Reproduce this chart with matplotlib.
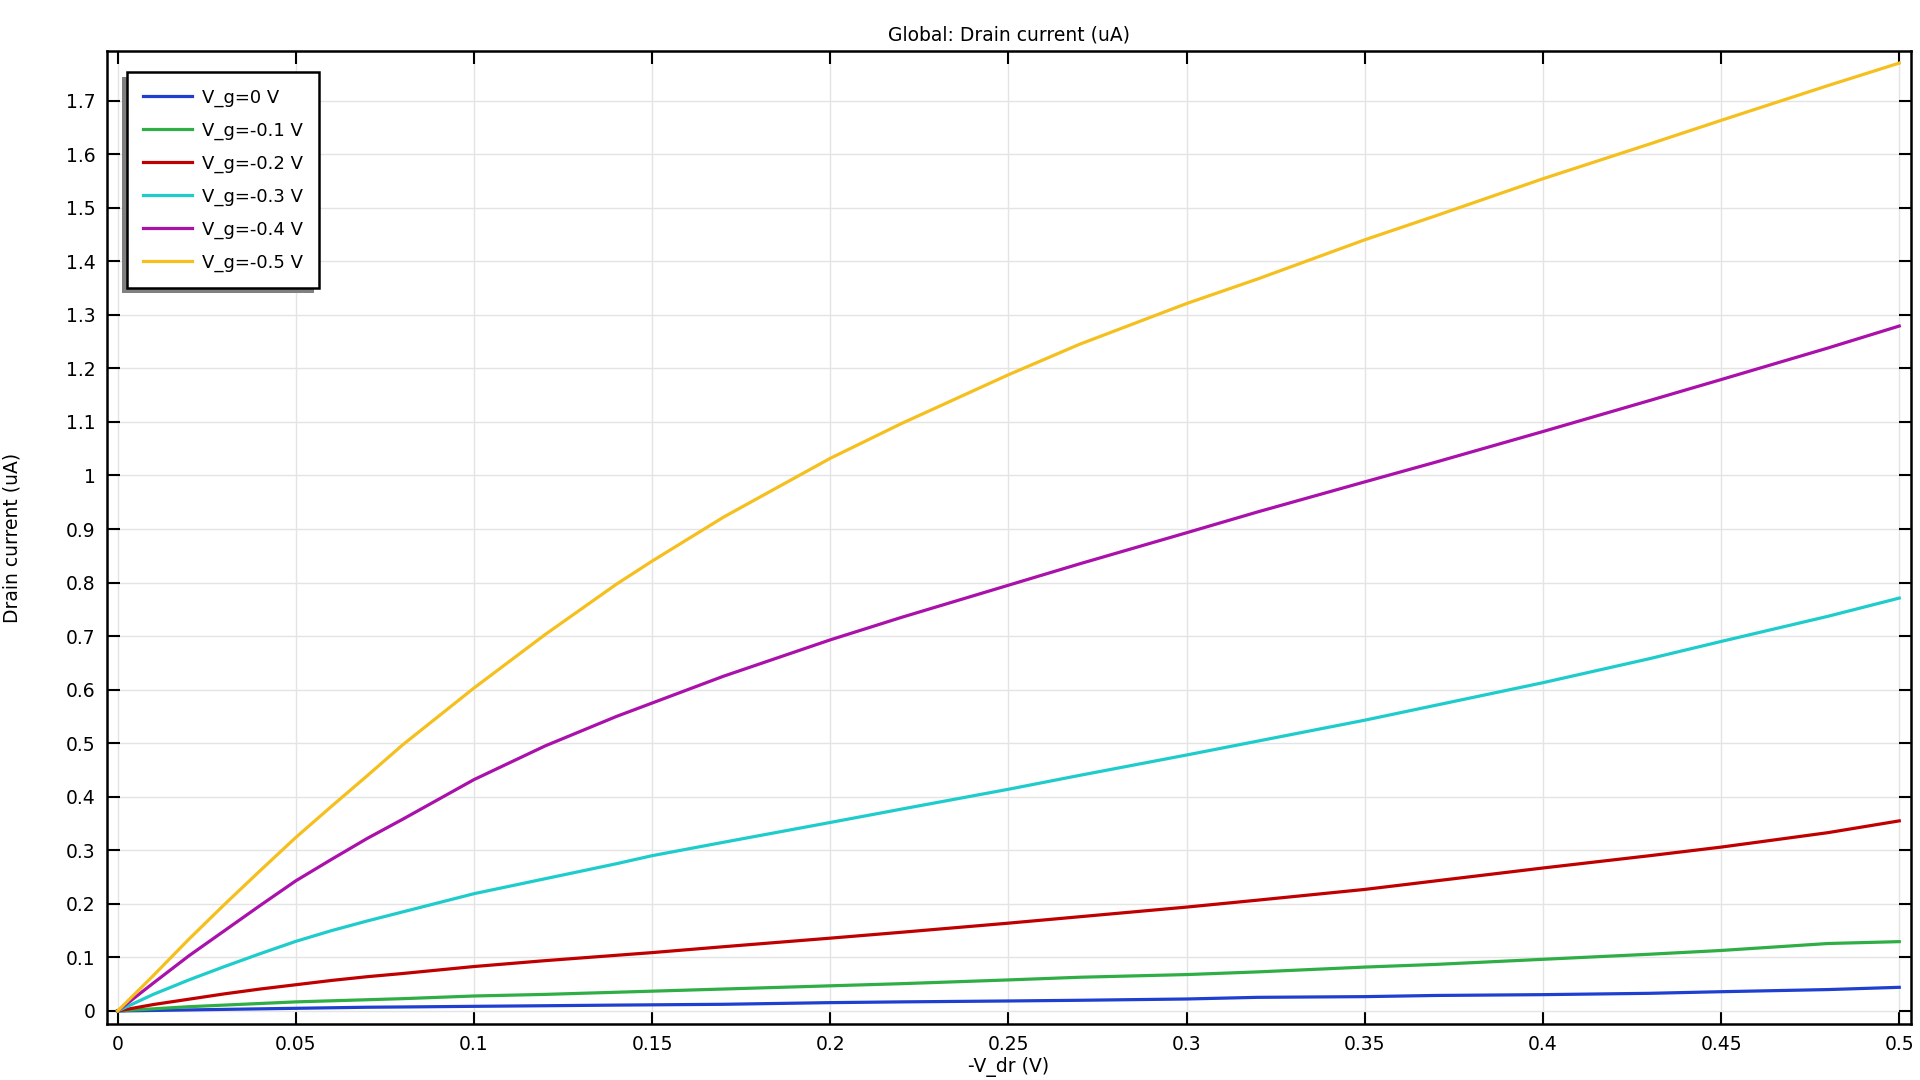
import numpy as np
import matplotlib.pyplot as plt
from matplotlib.patches import Rectangle
from matplotlib.transforms import IdentityTransform

# drain voltage samples (-V_dr, V)
v_dr = [0, 0.01, 0.02, 0.03, 0.04, 0.05, 0.06, 0.07, 0.08, 0.1, 0.12, 0.14, 0.15,
        0.17, 0.2, 0.22, 0.25, 0.27, 0.3, 0.32, 0.35, 0.37, 0.4, 0.43, 0.45, 0.48, 0.5]

# drain current (uA) for each gate voltage
i_0 = [0, 0.001, 0.002, 0.003, 0.004, 0.005, 0.006, 0.007, 0.0075, 0.0087, 0.0098,
       0.011, 0.0115, 0.0125, 0.0156, 0.017, 0.0187, 0.020, 0.0224, 0.0255, 0.0268,
       0.029, 0.0305, 0.033, 0.036, 0.040, 0.0442]
i_01 = [0, 0.004, 0.008, 0.011, 0.014, 0.017, 0.019, 0.021, 0.023, 0.028, 0.031,
        0.035, 0.037, 0.041, 0.047, 0.051, 0.058, 0.063, 0.068, 0.073, 0.082,
        0.087, 0.0965, 0.106, 0.113, 0.126, 0.1295]
i_02 = [0, 0.012, 0.022, 0.032, 0.041, 0.049, 0.057, 0.064, 0.070, 0.083, 0.094,
        0.104, 0.109, 0.12, 0.136, 0.147, 0.164, 0.176, 0.194, 0.207, 0.227,
        0.243, 0.267, 0.29, 0.306, 0.333, 0.355]
i_03 = [0, 0.031, 0.058, 0.083, 0.107, 0.130, 0.150, 0.168, 0.185, 0.219, 0.247,
        0.275, 0.29, 0.315, 0.352, 0.377, 0.414, 0.44, 0.478, 0.504, 0.543,
        0.571, 0.613, 0.658, 0.690, 0.737, 0.771]
i_04 = [0, 0.052, 0.103, 0.150, 0.197, 0.243, 0.283, 0.322, 0.358, 0.432, 0.495,
        0.550, 0.575, 0.625, 0.693, 0.735, 0.795, 0.835, 0.893, 0.932, 0.988,
        1.025, 1.082, 1.14, 1.179, 1.238, 1.279]
i_05 = [0, 0.066, 0.134, 0.199, 0.262, 0.324, 0.382, 0.439, 0.497, 0.603, 0.703,
        0.797, 0.840, 0.922, 1.032, 1.097, 1.188, 1.245, 1.321, 1.367, 1.440,
        1.485, 1.554, 1.619, 1.663, 1.728, 1.770]

labels = ['V_g=0 V', 'V_g=-0.1 V', 'V_g=-0.2 V', 'V_g=-0.3 V', 'V_g=-0.4 V', 'V_g=-0.5 V']
colors = ['#1f3fd0', '#2fae45', '#c00000', '#1fcccc', '#aa10aa', '#f5c01e']

plt.rcParams['font.family'] = 'DejaVu Sans'
fig = plt.figure(figsize=(19.2, 10.8), dpi=100)
ax = fig.add_axes([0.0555, 0.052, 0.94, 0.9005])

for ys, lab, c in zip([i_0, i_01, i_02, i_03, i_04, i_05], labels, colors):
    ax.plot(v_dr, ys, color=c, lw=2.3, label=lab)

ax.set_xlim(-0.0031, 0.5034)
ax.set_ylim(-0.024, 1.792)
ax.set_xticks(np.arange(0, 0.501, 0.05))
ax.set_xticklabels(['0', '0.05', '0.1', '0.15', '0.2', '0.25', '0.3', '0.35', '0.4', '0.45', '0.5'])
yt = np.arange(0, 1.71, 0.1)
ax.set_yticks(yt)
ax.set_yticklabels(['0'] + ['%g' % round(v, 1) for v in yt[1:]])
ax.grid(True, color='#e4e4e4', lw=1)
ax.tick_params(direction='in', length=9, width=1.5, top=True, right=True,
               labelsize=13.5, pad=8)
for s in ax.spines.values():
    s.set_linewidth(1.8)

ax.set_title('Global: Drain current (uA)', fontsize=13.5, pad=8)
ax.set_xlabel('-V_dr (V)', fontsize=13.5, labelpad=2)
ax.set_ylabel('Drain current (uA)', fontsize=13.5)
ax.yaxis.set_label_coords(-0.047, 0.5)

leg = ax.legend(loc='upper left', bbox_to_anchor=(0.0114, 0.9787), borderaxespad=0,
                fontsize=13, fancybox=False, framealpha=1, edgecolor='black',
                borderpad=0.9, labelspacing=0.82, handlelength=2.7, handletextpad=0.55)
leg.get_frame().set_linewidth(1.8)
leg.set_zorder(6)

fig.canvas.draw()
bb = leg.get_window_extent()
shadow = Rectangle((bb.x0 - 5, bb.y0 - 5), bb.width, bb.height, transform=IdentityTransform(),
                   facecolor='#808080', edgecolor='none', zorder=5.5)
ax.add_artist(shadow)

fig.savefig('out.png', dpi=100)
